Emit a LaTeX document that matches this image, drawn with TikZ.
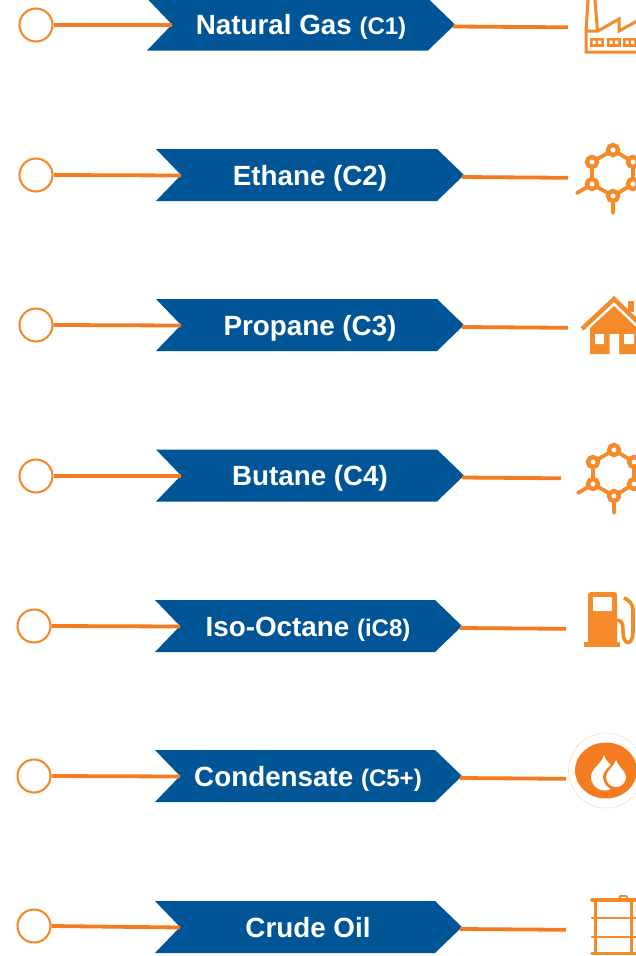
\documentclass[tikz,border=0pt]{standalone}
\usepackage{fontspec}
\setmainfont{Liberation Sans}
\definecolor{ribbon}{HTML}{005596}
\definecolor{lineor}{HTML}{F47B20}
\definecolor{iconor}{HTML}{F58A2B}
\tikzset{
  ring/.style={circle,draw=iconor,line width=2.1pt,fill=white,minimum size=33pt,inner sep=0pt},
  link/.style={draw=lineor,line width=3.8pt},
  ribbonshape/.style={fill=ribbon,draw=none},
  label/.style={text=white,font=\bfseries\fontsize{27.8}{30}\selectfont,inner sep=0pt,anchor=base},
  iconline/.style={draw=iconor,line width=3pt},
  iconfill/.style={fill=iconor,draw=none},
  molnode/.style={circle,draw=iconor,line width=4.4pt,fill=white,minimum size=10pt,inner sep=0pt},
}
\newcommand{\sm}[1]{{\fontsize{24}{26}\selectfont #1}}
% #1 id, #2 left x, #3 tip x, #4 centre y, #5 ring x, #6 left y, #7 text x, #8 text, #9 right end x
\newcommand{\rowitem}[9]{%
  \fill[ribbonshape] (#2,#4-26) -- (#3-27,#4-26) -- (#3,#4) -- (#3-27,#4+26) -- (#2,#4+26) -- (#2+25,#4) -- cycle;
  \node[label] (t#1) at (#7,#4+10) {#8};
  \node[ring] (r#1) at (#5,#6) {};
  \coordinate (n#1) at (#2+25,#4+.5);
  \coordinate (a#1) at (#3-2,#4+2);
  \coordinate (b#1) at (#9,#4+2.8);
  \draw[link] (r#1.east) -- (n#1);
  \draw[link] (a#1) -- (b#1);
}
\newcommand{\molecule}[2]{%
  \begin{scope}[shift={(#1,#2)}]
    \draw[iconline,line width=3.8pt,line cap=round] (-36,43) -- (-21,34) (0,46) -- (0,63);
    \draw[iconline,line width=3.8pt] (0,0) -- (20,12) -- (20,34) -- (0,46) -- (-21,34) -- (-21,12) -- cycle;
    \foreach \px/\py in {0/0,20/12,20/34,0/46,-21/34,-21/12}{\node[molnode] at (\px,\py) {};}
  \end{scope}}
\begin{document}
\begin{tikzpicture}[x=1pt,y=-1pt]
\useasboundingbox (0,0) rectangle (636,956);
\clip (0,0) rectangle (636,956);
\fill[white] (0,0) rectangle (636,956);
\rowitem{1}{147}{455}{24.5}{36}{25}{301}{Natural Gas \sm{(C1)}}{568}
\rowitem{2}{156}{464}{175}{36}{175}{310}{Ethane (C2)}{568}
\rowitem{3}{156}{464}{325}{36}{325}{310}{Propane (C3)}{568}
\rowitem{4}{156}{464}{475.5}{36}{476}{310}{Butane (C4)}{561}
\rowitem{5}{155}{462}{626}{34}{626}{308}{Iso-Octane \sm{(iC8)}}{566}
\rowitem{6}{155}{462}{776}{34}{776}{308}{Condensate \sm{(C5+)}}{566}
\rowitem{7}{155}{462}{927}{34}{926}{308}{Crude Oil}{566}
% factory
\draw[iconline] (595,0) -- (597.5,31) (588,0) -- (586,31);
\draw[iconline] (637,52) -- (586,52) -- (586,31) -- (598,31) -- (619,19) -- (619,31) -- (637,21);
\foreach \wx in {590,607,623}{
  \fill[iconor] (\wx,38) rectangle ++(14,8.5);
  \fill[white] (\wx+2.5,40.5) rectangle ++(3.2,3.5) (\wx+8,40.5) rectangle ++(3.2,3.5);
}
% molecules
\molecule{613}{150}
\molecule{614}{450}
% house
\fill[iconor] (628,301) rectangle (634,312);
\draw[iconline,line width=4.4pt] (582,329) -- (614,299) -- (640,324);
\fill[iconor] (590,328) -- (614,306) -- (637,328) -- (637,354) -- (590,354) -- cycle;
\fill[white] (595,334) rectangle (604,344) (624,334) rectangle (634,344) (609.5,334) rectangle (619,354);
% pump
\fill[iconor,rounded corners=3pt] (588,592) rectangle (617,644);
\fill[iconor] (584,642) rectangle (620,647);
\fill[white,rounded corners=.8pt] (593,597) rectangle (612,611);
\draw[iconline,line width=3.6pt] (617,620) .. controls (623,620) and (623,626) .. (623,632) .. controls (623,646) and (633,646) .. (633,632) -- (633,610) .. controls (633,604) and (629,600) .. (624,598);
% condensate
\fill[white] (606,770.5) circle (37.5);
\draw[lineor!25,line width=.6pt] (606,770.5) circle (37.5);
\fill[lineor] (606,770.5) ellipse (31 and 28);
\fill[white] (604,755) .. controls (602,764) and (591,768) .. (591,777) arc[start angle=180,end angle=0,radius=13.5] .. controls (618,768) and (606,764) .. (604,755) -- cycle;
\fill[lineor] (616,757) .. controls (614,765) and (603,769) .. (603,777) arc[start angle=180,end angle=0,radius=13] .. controls (629,769) and (618,765) .. (616,757) -- cycle;
\fill[white] (616,760) .. controls (614,767) and (606,771) .. (606,777) arc[start angle=180,end angle=0,radius=10] .. controls (626,771) and (618,767) .. (616,760) -- cycle;
% barrel
\draw[iconline,line width=2.8pt,line cap=round] (592,918) -- (636,918) (592,937) -- (636,937);
\draw[iconline,line width=3.6pt,line cap=round] (592,900) -- (636,900) (592,953.5) -- (636,953.5);
\draw[iconline] (595,900) -- (595,954) (631.5,900) -- (631.5,954);
\fill[iconor,rounded corners=1.5pt] (618.5,900) rectangle (628,895);
\fill[white] (621,896.8) rectangle (625.5,898);
\end{tikzpicture}
\end{document}
